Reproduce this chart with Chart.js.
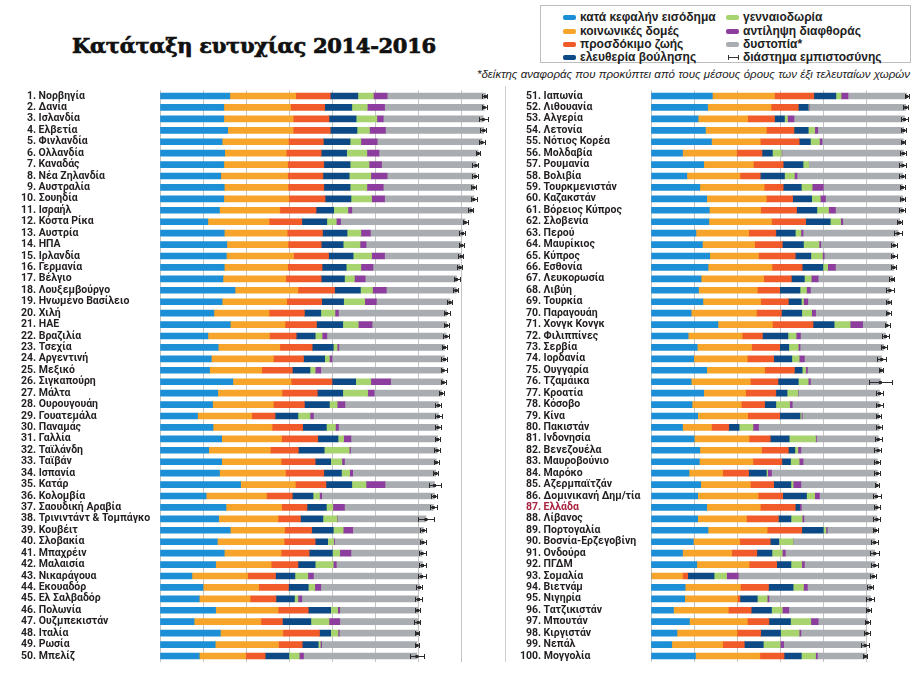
<!DOCTYPE html>
<html lang="el">
<head>
<meta charset="utf-8">
<script src="https://cdn.jsdelivr.net/npm/chart.js@4.4.1/dist/chart.umd.min.js"></script>
<style>
  body { margin: 0; background: #fff; }
  #page { position: relative; width: 920px; height: 674px; overflow: hidden; font-family: "Liberation Sans", Arial, sans-serif; }
  #title { position: absolute; left: 72px; top: 33px; font: bold 21px "DejaVu Serif", serif; color: #111; white-space: nowrap; letter-spacing: -0.3px; -webkit-text-stroke: 0.7px #111; }
  #legend { position: absolute; left: 540px; top: 5px; width: 371px; height: 58px; border: 1px solid #bdbdbd; box-sizing: border-box; }
  .item { position: absolute; font-weight: bold; font-size: 12px; color: #222; white-space: nowrap; line-height: 14px; }
  .sw { position: absolute; width: 13px; height: 5px; border-radius: 2px; }
  .ci { position: absolute; width: 9px; height: 5px; border-left: 1px solid #333; border-right: 1px solid #333;
        background: linear-gradient(#333, #333) center / 100% 1px no-repeat; }
  #note { position: absolute; right: 10px; top: 68px; font: italic 11.5px "Liberation Sans", Arial, sans-serif; color: #222; white-space: nowrap; }
  #sep { position: absolute; left: 505px; top: 86px; width: 1px; height: 576px; background: #cfcfcf; }
  canvas { position: absolute; top: 84px; }
</style>
</head>
<body>
<div id="page">
  <div id="title">Κατάταξη ευτυχίας 2014-2016</div>
  <div id="legend"></div>
  <div id="note">*δείκτης αναφοράς που προκύπτει από τους μέσους όρους των έξι τελευταίων χωρών</div>
  <div id="sep"></div>
  <canvas id="left" width="510" height="584" style="left:0"></canvas>
  <canvas id="right" width="415" height="584" style="left:505px"></canvas>
</div>
<script>
const countries = ['Νορβηγία','Δανία','Ισλανδία','Ελβετία','Φινλανδία','Ολλανδία','Καναδάς','Νέα Ζηλανδία','Αυστραλία','Σουηδία',
  'Ισραήλ','Κόστα Ρίκα','Αυστρία','ΗΠΑ','Ιρλανδία','Γερμανία','Βέλγιο','Λουξεμβούργο','Ηνωμένο Βασίλειο','Χιλή',
  'ΗΑΕ','Βραζιλία','Τσεχία','Αργεντινή','Μεξικό','Σιγκαπούρη','Μάλτα','Ουρουγουάη','Γουατεμάλα','Παναμάς',
  'Γαλλία','Ταϊλάνδη','Ταϊβάν','Ισπανία','Κατάρ','Κολομβία','Σαουδική Αραβία','Τρινιντάντ & Τομπάγκο','Κουβέιτ','Σλοβακία',
  'Μπαχρέιν','Μαλαισία','Νικαράγουα','Εκουαδόρ','Ελ Σαλβαδόρ','Πολωνία','Ουζμπεκιστάν','Ιταλία','Ρωσία','Μπελίζ',
  'Ιαπωνία','Λιθουανία','Αλγερία','Λετονία','Νότιος Κορέα','Μολδαβία','Ρουμανία','Βολιβία','Τουρκμενιστάν','Καζακστάν',
  'Βόρειος Κύπρος','Σλοβενία','Περού','Μαυρίκιος','Κύπρος','Εσθονία','Λευκορωσία','Λιβύη','Τουρκία','Παραγουάη',
  'Χονγκ Κονγκ','Φιλιππίνες','Σερβία','Ιορδανία','Ουγγαρία','Τζαμάικα','Κροατία','Κόσοβο','Κίνα','Πακιστάν',
  'Ινδονησία','Βενεζουέλα','Μαυροβούνιο','Μαρόκο','Αζερμπαϊτζάν','Δομινικανή Δημ/τία','Ελλάδα','Λίβανος','Πορτογαλία','Βοσνία-Ερζεγοβίνη',
  'Ονδούρα','ΠΓΔΜ','Σομαλία','Βιετνάμ','Νιγηρία','Τατζικιστάν','Μπουτάν','Κιργιστάν','Νεπάλ','Μογγολία'];

const gdp = [1.62,1.48,1.48,1.57,1.44,1.50,1.48,1.41,1.49,1.48, 1.38,1.11,1.49,1.55,1.54,1.49,1.46,1.74,1.44,1.25,
  1.63,1.11,1.35,1.19,1.15,1.69,1.34,1.22,0.87,1.23, 1.43,1.13,1.43,1.38,1.87,1.07,1.53,1.36,1.63,1.33,
  1.49,1.29,0.74,1.00,0.91,1.29,0.79,1.40,1.28,0.91, 1.42,1.31,1.09,1.26,1.40,0.73,1.22,0.83,1.13,1.29,
  1.35,1.34,1.04,1.19,1.36,1.32,1.16,1.10,1.20,0.93, 1.55,0.86,1.07,0.99,1.29,0.93,1.22,0.95,1.08,0.73,
  1.00,1.13,1.12,0.88,1.15,1.08,1.29,1.08,1.32,0.98, 0.73,1.06,0.00,0.79,0.78,0.52,0.89,0.60,0.48,1.03];
const social = [1.53,1.55,1.61,1.52,1.54,1.43,1.48,1.55,1.48,1.51, 1.40,1.42,1.46,1.42,1.56,1.47,1.46,1.46,1.50,1.28,
  1.27,1.43,1.43,1.44,1.21,1.35,1.49,1.41,1.26,1.37, 1.39,1.43,1.38,1.53,1.27,1.40,1.29,1.38,1.26,1.55,
  1.32,1.29,1.29,1.29,1.18,1.45,1.55,1.45,1.47,1.08, 1.44,1.47,1.15,1.41,1.13,1.25,1.15,1.23,1.49,1.38,
  1.19,1.45,1.22,1.21,1.13,1.48,1.45,1.36,1.34,1.51, 1.26,1.25,1.26,1.24,1.34,1.37,0.97,1.14,1.16,0.67,
  1.27,1.43,1.24,0.78,1.15,1.40,1.24,1.13,1.37,1.07, 1.14,1.21,0.73,1.28,1.22,1.27,1.34,1.39,1.18,1.49];
const health = [0.80,0.79,0.83,0.86,0.81,0.81,0.84,0.82,0.83,0.84, 0.84,0.76,0.82,0.77,0.81,0.80,0.82,0.85,0.81,0.82,
  0.73,0.62,0.75,0.70,0.71,0.95,0.82,0.72,0.54,0.71, 0.84,0.65,0.79,0.89,0.71,0.60,0.59,0.52,0.63,0.72,
  0.65,0.62,0.65,0.69,0.60,0.70,0.50,0.85,0.55,0.45, 0.91,0.63,0.62,0.64,0.90,0.59,0.69,0.47,0.44,0.61,
  0.83,0.79,0.63,0.64,0.85,0.70,0.64,0.52,0.64,0.58, 0.94,0.47,0.65,0.61,0.69,0.64,0.70,0.54,0.74,0.40,
  0.49,0.62,0.67,0.60,0.54,0.57,0.81,0.74,0.80,0.71, 0.58,0.64,0.12,0.65,0.06,0.53,0.50,0.55,0.50,0.56];
const freedom = [0.64,0.63,0.63,0.62,0.62,0.59,0.61,0.61,0.61,0.60, 0.41,0.58,0.57,0.51,0.57,0.56,0.54,0.60,0.51,0.38,
  0.61,0.44,0.49,0.49,0.41,0.55,0.59,0.58,0.53,0.55, 0.47,0.60,0.36,0.41,0.60,0.48,0.45,0.52,0.50,0.29,
  0.54,0.40,0.45,0.46,0.43,0.52,0.66,0.26,0.37,0.55, 0.51,0.23,0.23,0.33,0.26,0.24,0.46,0.56,0.42,0.44,
  0.47,0.57,0.45,0.49,0.36,0.48,0.30,0.47,0.30,0.47, 0.49,0.59,0.21,0.42,0.18,0.47,0.26,0.26,0.47,0.24,
  0.44,0.15,0.20,0.41,0.40,0.55,0.10,0.29,0.50,0.20, 0.35,0.33,0.61,0.57,0.40,0.47,0.50,0.46,0.44,0.40];
const generosity = [0.36,0.36,0.48,0.29,0.25,0.47,0.44,0.50,0.39,0.48, 0.33,0.22,0.32,0.39,0.43,0.34,0.23,0.28,0.49,0.33,
  0.36,0.16,0.09,0.11,0.12,0.35,0.58,0.18,0.28,0.21, 0.13,0.58,0.26,0.19,0.33,0.15,0.15,0.33,0.23,0.14,
  0.17,0.42,0.30,0.15,0.08,0.16,0.42,0.17,0.05,0.24, 0.12,0.01,0.07,0.15,0.21,0.21,0.13,0.23,0.25,0.20,
  0.27,0.24,0.13,0.36,0.27,0.11,0.16,0.15,0.05,0.23, 0.37,0.19,0.22,0.17,0.08,0.23,0.25,0.32,0.03,0.32,
  0.61,0.07,0.20,0.03,0.05,0.19,0.00,0.26,0.06,0.33, 0.24,0.25,0.29,0.24,0.23,0.25,0.47,0.43,0.39,0.33];
const trust = [0.32,0.40,0.15,0.37,0.38,0.28,0.29,0.38,0.38,0.30, 0.09,0.10,0.22,0.14,0.30,0.28,0.25,0.32,0.27,0.08,
  0.32,0.11,0.04,0.06,0.13,0.46,0.15,0.18,0.08,0.07, 0.17,0.03,0.06,0.07,0.44,0.05,0.27,0.01,0.22,0.02,
  0.26,0.07,0.13,0.14,0.09,0.05,0.25,0.03,0.03,0.10, 0.16,0.01,0.15,0.07,0.06,0.01,0.00,0.06,0.26,0.12,
  0.16,0.05,0.05,0.04,0.04,0.18,0.16,0.09,0.10,0.09, 0.29,0.10,0.04,0.12,0.04,0.05,0.01,0.06,0.02,0.13,
  0.02,0.07,0.09,0.09,0.18,0.11,0.04,0.04,0.03,0.00, 0.07,0.06,0.27,0.09,0.04,0.15,0.17,0.04,0.08,0.04];
const dystopia = [2.28,2.31,2.32,2.28,2.43,2.30,2.19,2.05,2.10,2.07, 2.77,2.89,2.14,2.22,1.78,2.02,2.12,1.62,1.71,2.51,
  1.73,2.77,2.45,2.61,2.84,1.22,1.56,2.17,2.90,2.31, 2.01,2.01,2.13,1.93,1.15,2.62,2.06,2.05,1.64,2.05,
  1.65,2.00,2.51,2.29,2.71,1.81,1.82,1.81,2.21,2.63, 1.36,2.24,2.56,1.99,1.88,2.81,2.18,2.45,1.83,1.79,
  1.55,1.32,2.20,1.70,1.61,1.35,1.72,1.84,1.88,1.68, 0.56,1.97,1.94,1.79,1.71,1.62,1.88,2.01,1.77,2.79,
  1.43,1.79,1.72,2.45,1.76,1.32,1.75,1.69,1.12,1.89, 2.07,1.63,3.13,1.47,2.35,1.85,1.14,1.53,1.89,1.11];
const ciLow = [7.48,7.46,7.39,7.43,7.41,7.33,7.25,7.25,7.22,7.21, 7.15,7.02,6.94,6.93,6.91,6.89,6.83,6.80,6.65,6.58,
  6.59,6.56,6.55,6.53,6.51,6.52,6.47,6.38,6.37,6.37, 6.38,6.36,6.36,6.34,6.23,6.28,6.26,5.99,6.03,6.04,
  6.02,6.01,5.98,5.94,5.92,5.92,5.90,5.91,5.91,5.79, 5.87,5.84,5.78,5.79,5.78,5.77,5.75,5.75,5.76,5.76,
  5.74,5.70,5.63,5.55,5.55,5.55,5.51,5.43,5.44,5.43, 5.41,5.35,5.33,5.24,5.27,5.05,5.21,5.20,5.22,5.20,
  5.19,5.17,5.16,5.17,5.19,5.14,5.16,5.15,5.14,5.10, 5.07,5.10,5.08,5.01,4.98,4.98,4.95,4.93,4.87,4.90];
const ciHigh = [7.59,7.58,7.62,7.56,7.53,7.43,7.38,7.38,7.34,7.36, 7.27,7.14,7.07,7.06,7.04,7.01,6.95,6.92,6.78,6.72,
  6.71,6.71,6.67,6.67,6.65,6.63,6.59,6.52,6.54,6.53, 6.50,6.49,6.48,6.46,6.52,6.43,6.43,6.35,6.18,6.16,
  6.16,6.16,6.16,6.08,6.09,6.03,6.04,6.02,6.02,6.12, 5.97,5.96,5.96,5.91,5.89,5.90,5.90,5.89,5.89,5.88,
  5.88,5.82,5.80,5.70,5.69,5.67,5.63,5.62,5.56,5.55, 5.53,5.51,5.46,5.43,5.38,5.58,5.37,5.36,5.33,5.34,
  5.34,5.33,5.31,5.30,5.28,5.32,5.30,5.30,5.25,5.26, 5.29,5.25,5.22,5.14,5.17,5.10,5.07,5.08,5.05,5.01];

const seriesNames = ['κατά κεφαλήν εισόδημα','κοινωνικές δομές','προσδόκιμο ζωής','ελευθερία βούλησης',
  'γενναιοδωρία','αντίληψη διαφθοράς','δυστοπία*'];
const seriesColors = ['#1d8fd6','#f6a52a','#f15a29','#0d4a85','#a8d46f','#8d3d9e','#a9adb2'];
const series = [gdp, social, health, freedom, generosity, trust, dystopia];

// legend (html)
const legend = document.getElementById('legend');
const legendPos = [[22,4],[22,18],[22,31],[22,44],[185,4],[185,18],[185,31],[185,44]];
seriesNames.concat(['διάστημα εμπιστοσύνης']).forEach((name, i) => {
  const [lx, ly] = legendPos[i];
  const mark = document.createElement('div');
  if (i < 7) {
    mark.className = 'sw';
    mark.style.background = seriesColors[i];
    mark.style.left = lx + 'px';
  } else {
    mark.className = 'ci';
    mark.style.left = (lx + 2) + 'px';
  }
  mark.style.top = (ly + 5) + 'px';
  legend.appendChild(mark);
  const t = document.createElement('div');
  t.className = 'item';
  t.textContent = name;
  t.style.left = (lx + 17) + 'px';
  t.style.top = ly + 'px';
  legend.appendChild(t);
});

const whiskers = {
  id: 'whiskers',
  afterDatasetsDraw(chart, args, opts) {
    const { ctx, scales: { x, y } } = chart;
    ctx.save();
    ctx.strokeStyle = '#2b2b2b';
    ctx.fillStyle = '#2b2b2b';
    ctx.lineWidth = 1;
    for (let i = 0; i < opts.lo.length; i++) {
      const yc = Math.round(y.getPixelForValue(i)) + 0.5;
      const x1 = Math.round(x.getPixelForValue(opts.lo[i])) + 0.5;
      const x2 = Math.round(x.getPixelForValue(opts.hi[i])) + 0.5;
      const xm = x.getPixelForValue(opts.mid[i]);
      ctx.beginPath();
      ctx.moveTo(x1, yc); ctx.lineTo(x2, yc);
      ctx.moveTo(x1, yc - 2.5); ctx.lineTo(x1, yc + 2.5);
      ctx.moveTo(x2, yc - 2.5); ctx.lineTo(x2, yc + 2.5);
      ctx.stroke();
      ctx.fillRect(xm - 1.5, yc - 1.5, 3, 3);
    }
    ctx.restore();
  }
};

function makeChart(id, from, to, opt) {
  const labels = [];
  for (let i = from; i < to; i++) {
    const rank = i + 1;
    const pad = rank < opt.padBelow ? '\u2007' : '';
    labels.push(pad + rank + '. ' + countries[i]);
  }
  const totals = [];
  for (let i = from; i < to; i++) totals.push(series.reduce((s, arr) => s + arr[i], 0));
  return new Chart(document.getElementById(id), {
    type: 'bar',
    data: {
      labels: labels,
      datasets: series.map((arr, k) => ({
        label: seriesNames[k],
        data: arr.slice(from, to),
        backgroundColor: seriesColors[k],
        borderWidth: 0,
        barThickness: 6
      }))
    },
    options: {
      indexAxis: 'y',
      responsive: false,
      animation: false,
      layout: { padding: { left: opt.padLeft, right: opt.padRight, top: 6.3, bottom: 5.7 } },
      scales: {
        x: {
          stacked: true, min: 0, max: opt.max,
          ticks: { display: false, stepSize: 1 },
          grid: { drawTicks: false, color: c => (c.tick.value <= opt.gridMax && Number.isInteger(c.tick.value)) ? '#c4c4c4' : 'rgba(0,0,0,0)' },
          border: { display: false },
          afterFit: s => { s.height = 0; }
        },
        y: {
          stacked: true,
          grid: { display: false },
          border: { display: false },
          ticks: {
            autoSkip: false, crossAlign: 'far', padding: 0,
            font: { family: 'Roboto', size: 10.5, weight: 'bold' },
            color: c => (from + c.index + 1 === 87) ? '#a8243f' : '#231f20'
          },
          afterFit: s => { s.width = opt.yWidth; }
        }
      },
      plugins: {
        legend: { display: false },
        tooltip: { enabled: false },
        whiskers: { lo: ciLow.slice(from, to), hi: ciHigh.slice(from, to), mid: totals }
      }
    },
    plugins: [whiskers]
  });
}

makeChart('left', 0, 50, { padBelow: 10, padLeft: 21, yWidth: 139, padRight: 9.5, max: 7.9, gridMax: 7 });
makeChart('right', 50, 100, { padBelow: 100, padLeft: 15, yWidth: 131, padRight: 1.2, max: 6.2, gridMax: 5 });
</script>
</body>
</html>
